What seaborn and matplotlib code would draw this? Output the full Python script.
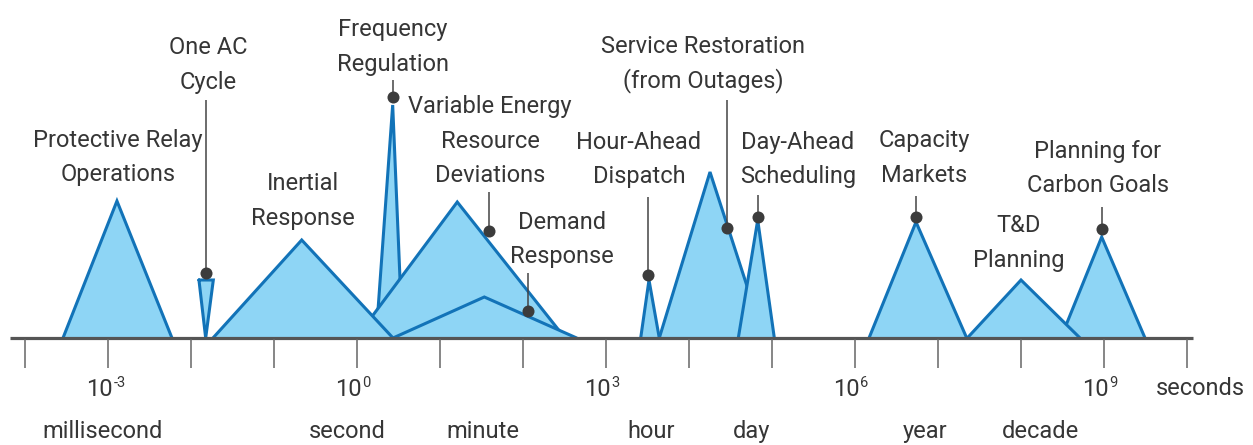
import numpy as np
import matplotlib
matplotlib.use("Agg")
import matplotlib.pyplot as plt
import seaborn as sns
from matplotlib import font_manager as fm

# ---------------- data (x = log10 seconds, y = relative height above the axis) ----------------
shape_names = ["Protective Relay", "One AC Cycle", "Frequency Regulation",
               "Variable Energy", "Inertial Response", "Demand Response",
               "Hour-Ahead", "Service Restoration", "Day-Ahead",
               "Capacity Markets", "Carbon Goals", "T&D Planning"]
left_log  = [-3.542, -1.904, 0.229, -0.012, -1.735, 0.434, 3.418, 3.642, 4.594, 6.169, 8.480, 7.353]
peak_log  = [-2.892, -1.823, 0.430, 1.208, -0.666, 1.534, 3.518, 4.253, 4.828, 6.735, 8.972, 8.000]
right_log = [-2.229, -1.731, 0.548, 2.506, 0.434, 2.647, 3.642, 4.902, 5.028, 7.346, 9.494, 8.711]
peak_h    = [137, 58, 233, 136, 98, 41, 58, 166, 118, 116, 101, 58]
inverted  = [False, True, False, False, False, False, False, False, False, False, False, False]

# callout dots with leader lines
dot_log = [-1.823, 0.430, 1.594, 2.057, 3.506, 4.461, 4.831, 6.731, 8.980]
dot_h   = [65, 241, 107, 27, 63, 110, 121, 121, 109]
lead_top = [238, 258, 146, 65, 141, 238, 143, 142, 131]

label_text = ["Protective Relay\nOperations", "One AC\nCycle", "Frequency\nRegulation",
              "Inertial\nResponse", "Variable Energy\nResource\nDeviations",
              "Demand\nResponse", "Hour-Ahead\nDispatch",
              "Service Restoration\n(from Outages)", "Day-Ahead\nScheduling",
              "Capacity\nMarkets", "T&D\nPlanning", "Planning for\nCarbon Goals"]
label_log = [-2.880, -1.795, 0.434, -0.657, 1.602, 2.470, 3.398, 4.169, 5.313, 6.831, 7.970, 8.922]
label_h   = [191, 284, 302, 148, 225, 109, 189, 285, 189, 191, 106, 180]

tick_exps = list(range(-4, 11))
labeled_exps = [-3, 0, 3, 6, 9]

unit_names = ["millisecond", "second", "minute", "hour", "day", "year", "decade"]
unit_log   = [-3.060, -0.114, 1.512, 3.542, 4.756, 6.849, 8.233]
axis_unit = "seconds"
axis_unit_log = 10.157

# ---------------- style ----------------
sns.set_theme(style="white")
names = {f.name for f in fm.fontManager.ttflist}
if "Liberation Sans Narrow" in names:
    fam, fs = "Liberation Sans Narrow", 20
else:
    fam, fs = "Roboto", 17
plt.rcParams["font.family"] = [fam, "DejaVu Sans"]

FILL = "#8ED5F5"
EDGE = "#1273B8"
TXT = "#363636"
GREY = "#555555"

fig = plt.figure(figsize=(12.53, 4.45), dpi=100)
ax = fig.add_axes([0, 0, 1, 1])
ax.set_xscale("log")
ax.set_xlim(10 ** -4.301, 10 ** 10.795)
ax.set_ylim(-107, 338)
ax.axis("off")

# triangles
for i in range(len(shape_names)):
    xl, xp, xr, h = 10 ** left_log[i], 10 ** peak_log[i], 10 ** right_log[i], peak_h[i]
    if inverted[i]:
        xs = [xl, xr, xp, xl]
        ys = [h, h, 0, h]
    else:
        xs = [xl, xp, xr]
        ys = [0, h, 0]
    z = 2 + i * 0.01
    ax.fill(xs, ys, color=FILL, zorder=z, lw=0)
    ax.plot(xs, ys, color=EDGE, lw=2.2, solid_joinstyle="miter", zorder=z + 0.005)

# leader lines + dots
dx = [10 ** v for v in dot_log]
ax.vlines(dx, dot_h, lead_top, color="#444444", lw=1.1, zorder=3)
sns.scatterplot(x=dx, y=dot_h, ax=ax, color="#3c3c3c", s=75, linewidth=0, zorder=4, legend=False)

# axis line and ticks
tick_x = [10 ** e for e in tick_exps]
ax.plot([10 ** (tick_exps[0] - 0.18), 10 ** (tick_exps[-1] + 0.07)], [0, 0],
        color=GREY, lw=2.3, solid_capstyle="butt", zorder=5)
ax.vlines(tick_x, -30, -1, color="#666666", lw=1.1, zorder=5)

for e in labeled_exps:
    ax.annotate("10", (10 ** e, -58), xytext=(3.6, 0), textcoords="offset points",
                ha="right", va="baseline", fontsize=fs, color=TXT)
    ax.annotate(str(e), (10 ** e, -58), xytext=(3.9, 6.5), textcoords="offset points",
                ha="left", va="baseline", fontsize=fs * 0.62, color=TXT)
ax.text(10 ** axis_unit_log, -57, axis_unit, ha="center", va="baseline", fontsize=fs, color=TXT)
for n, v in zip(unit_names, unit_log):
    ax.text(10 ** v, -100, n, ha="center", va="baseline", fontsize=fs, color=TXT)

# labels (each line placed separately)
LS = 34.5
for t, v, h in zip(label_text, label_log, label_h):
    for k, line in enumerate(t.split("\n")):
        ax.text(10 ** v, h - k * LS, line, ha="center", va="baseline", fontsize=fs,
                color=TXT, zorder=6)

fig.savefig("out.png", dpi=100)
